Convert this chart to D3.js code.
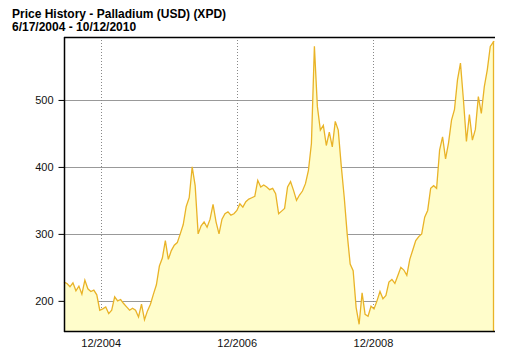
<!DOCTYPE html>
<html>
<head>
<meta charset="utf-8">
<script src="https://cdn.jsdelivr.net/npm/d3@7"></script>
<style>
  html, body { margin: 0; padding: 0; background: #fff; }
  svg { display: block; }
  text { font-family: "Liberation Sans", Arial, sans-serif; }
</style>
</head>
<body>
<script>
// ---- data ----
const titleLines = ["Price History - Palladium (USD) (XPD)", "6/17/2004 - 10/12/2010"];
const startDate = "2004-06-17";
const endDate = "2010-10-12";
const stepDays = 16;
const prices = [
  228,226,221,227,215,222,210,231,218,214,216,209,186,188,191,181,186,206,200,202,
  196,191,186,189,186,176,195,172,185,195,210,224,252,264,290,262,
  275,283,287,300,314,341,354,400,372,300,312,318,310,322,344,318,300,322,330,333,
  328,330,335,345,340,348,352,354,356,380,370,373,370,366,368,360,
  330,334,338,370,378,365,350,358,364,375,395,435,580,490,455,462,432,452,430,468,
  455,402,355,300,255,245,190,165,212,180,177,192,188,200,214,203,
  208,228,232,226,238,250,246,238,262,276,290,296,300,325,335,368,372,368,425,445,
  412,436,470,486,530,555,500,438,478,440,456,505,480,520,545,580,588
];
const yTicks = [200, 300, 400, 500];
const xTickDates = ["2004-12-31", "2006-12-31", "2008-12-31"];
const xTickLabels = ["12/2004", "12/2006", "12/2008"];
const yDomain = [155, 594];

// ---- build ----
const W = 512, H = 362;
const margin = { left: 64, right: 18, top: 37, bottom: 31 };
const parse = d3.timeParse("%Y-%m-%d");
const t0 = parse(startDate), t1 = parse(endDate);
const data = prices.map((v, i) => ({
  date: i === prices.length - 1 ? t1 : d3.timeDay.offset(t0, i * stepDays),
  value: v
}));

const svg = d3.select("body").append("svg").attr("width", W).attr("height", H);

const x = d3.scaleTime().domain([t0, t1]).range([margin.left, W - margin.right]);
const y = d3.scaleLinear().domain(yDomain).range([H - margin.bottom, margin.top]);

// title
svg.append("g").selectAll("text").data(titleLines).join("text")
  .attr("x", 12).attr("y", (d, i) => 18 + i * 12.5)
  .attr("font-size", 12).attr("font-weight", "bold").attr("fill", "#000")
  .text(d => d);

// horizontal grid
svg.append("g").selectAll("line").data(yTicks).join("line")
  .attr("x1", margin.left).attr("x2", W - margin.right)
  .attr("y1", d => Math.round(y(d)) + 0.5).attr("y2", d => Math.round(y(d)) + 0.5)
  .attr("stroke", "#999").attr("stroke-width", 1);

// vertical dotted grid
const xt = xTickDates.map(parse);
svg.append("g").selectAll("line").data(xt).join("line")
  .attr("x1", d => Math.round(x(d)) + 0.5).attr("x2", d => Math.round(x(d)) + 0.5)
  .attr("y1", margin.top).attr("y2", H - margin.bottom)
  .attr("stroke", "#888").attr("stroke-width", 1).attr("stroke-dasharray", "1,2");

// area + line
const area = d3.area().x(d => x(d.date)).y0(H - margin.bottom).y1(d => y(d.value));
const line = d3.line().x(d => x(d.date)).y(d => y(d.value));
svg.append("path").datum(data).attr("d", area).attr("fill", "#FFFDCB");
svg.append("path").datum(data).attr("d", line)
  .attr("fill", "none").attr("stroke", "#E9B327").attr("stroke-width", 1.3);
// right edge of area
svg.append("line")
  .attr("x1", x(t1) - 0.5).attr("x2", x(t1) - 0.5)
  .attr("y1", y(prices[prices.length - 1])).attr("y2", H - margin.bottom)
  .attr("stroke", "#E9B327").attr("stroke-width", 1.3);

// axes
const yAxis = d3.axisLeft(y).tickValues(yTicks).tickSize(6).tickPadding(5);
const gy = svg.append("g").attr("transform", `translate(${margin.left + 0.5},0)`).call(yAxis);
gy.select(".domain").remove();
gy.selectAll(".tick line").attr("stroke", "#000");
gy.selectAll("text").attr("font-size", 11).attr("fill", "#111").attr("font-family", "Liberation Sans, Arial, sans-serif");

const xAxis = d3.axisBottom(x).tickValues(xt).tickSize(0).tickPadding(8)
  .tickFormat((d, i) => xTickLabels[i]);
const gx = svg.append("g").attr("transform", `translate(0,${H - margin.bottom})`).call(xAxis);
gx.select(".domain").remove();
gx.selectAll("text").attr("font-size", 11).attr("fill", "#111").attr("font-family", "Liberation Sans, Arial, sans-serif");

// frame lines: left, bottom, top
svg.append("line").attr("x1", margin.left + 0.5).attr("x2", margin.left + 0.5)
  .attr("y1", margin.top).attr("y2", H - margin.bottom + 1).attr("stroke", "#000").attr("stroke-width", 1.5);
svg.append("line").attr("x1", margin.left).attr("x2", W - margin.right + 1)
  .attr("y1", H - margin.bottom + 0.5).attr("y2", H - margin.bottom + 0.5).attr("stroke", "#000").attr("stroke-width", 1.5);
svg.append("line").attr("x1", margin.left).attr("x2", W - margin.right + 1)
  .attr("y1", margin.top + 0.5).attr("y2", margin.top + 0.5).attr("stroke", "#000").attr("stroke-width", 1.5);
</script>
</body>
</html>
